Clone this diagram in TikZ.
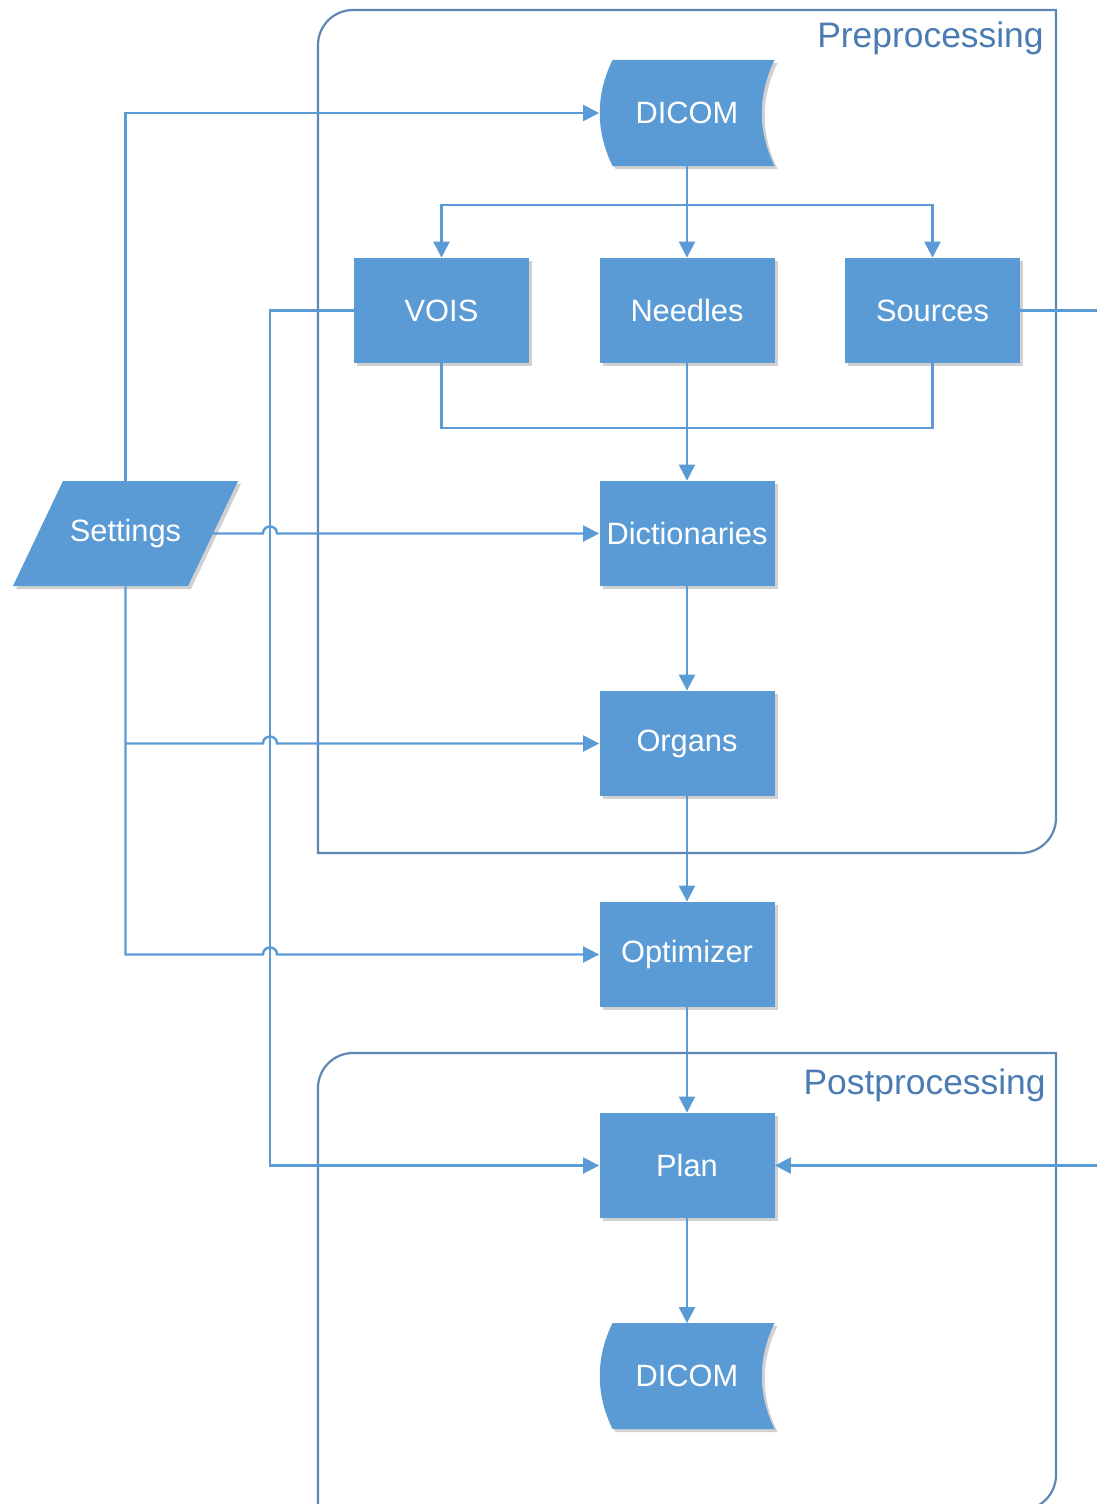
\documentclass[tikz,border=0pt]{standalone}
\usepackage{fontspec}
\setmainfont{Liberation Sans}
\usetikzlibrary{arrows.meta,shadows}
\definecolor{nodeblue}{HTML}{5B9BD5}
\definecolor{lineblue}{HTML}{5B9BD5}
\definecolor{contblue}{HTML}{5F87B4}
\definecolor{labblue}{HTML}{4A7BB2}
\begin{document}
\begin{tikzpicture}[x=0.5pt,y=-0.5pt,
  shad/.style={drop shadow={shadow xshift=1.5pt,shadow yshift=-1.5pt,opacity=.3,fill=black!60}},
  box/.style={fill=nodeblue,minimum width=87.5pt,minimum height=52.5pt,inner sep=0pt,text=white,font=\fontsize{15.4}{18}\selectfont,shad},
  tbox/.style={minimum width=87.5pt,minimum height=52.5pt,inner sep=0pt,text=white,font=\fontsize{15.4}{18}\selectfont},
  conn/.style={draw=lineblue,line width=1.2pt},
  arr/.style={conn,-{Triangle[length=8pt,width=8pt]}},
  cont/.style={draw=contblue,line width=1.1pt},
  lab/.style={text=labblue,font=\fontsize{17.7}{21}\selectfont,inner sep=0pt}]
\useasboundingbox (0,0) rectangle (1097,1504);
% containers
\draw[cont] (318,853) -- (318,45) .. controls (318,25.7) and (333.7,10) .. (353,10) -- (1056,10) -- (1056,818) .. controls (1056,837.3) and (1040.3,853) .. (1021,853) -- cycle;
\draw[cont] (318,1520) -- (318,1088) .. controls (318,1068.7) and (333.7,1053) .. (353,1053) -- (1056,1053) -- (1056,1475) .. controls (1056,1494.3) and (1040.3,1510) .. (1021,1510) -- (318,1510);
\node[lab,anchor=east] (prelab) at (1044,38) {Preprocessing};
\node[lab,anchor=east] (postlab) at (1046,1085) {Postprocessing};
% stored data shapes
\fill[nodeblue,shad] (612.5,60) -- (774.5,60) .. controls (757.5,95) and (757.5,131) .. (774.5,166) -- (612.5,166) .. controls (595.5,131) and (595.5,95) .. (612.5,60) -- cycle;
\node[tbox] (dicom1) at (687,113) {DICOM};
\fill[nodeblue,shad] (612.5,1323) -- (774.5,1323) .. controls (757.5,1358) and (757.5,1394) .. (774.5,1429) -- (612.5,1429) .. controls (595.5,1394) and (595.5,1358) .. (612.5,1323) -- cycle;
\node[tbox] (dicom2) at (687,1376) {DICOM};
% settings parallelogram
\fill[nodeblue,shad] (63,481) -- (238,481) -- (188,586) -- (13,586) -- cycle;
\node[tbox,minimum width=60pt] (settings) at (125.5,533.5) {Settings};
\coordinate (seteast) at (213,533.5);
% boxes
\node[box] (vois) at (441.5,310.5) {VOIS};
\node[box] (needles) at (687,310.5) {Needles};
\node[box] (sources) at (932.5,310.5) {Sources};
\node[box] (dict) at (687,533.5) {Dictionaries};
\node[box] (organs) at (687,743.5) {Organs};
\node[box] (optim) at (687,954.5) {Optimizer};
\node[box] (plan) at (687,1165.5) {Plan};
% connectors
\coordinate (split) at (687,205);
\draw[arr] (dicom1.south) -- (needles.north);
\draw[arr] (split) -| (vois.north);
\draw[arr] (split) -| (sources.north);
\coordinate (mergel) at (441.5,428);
\coordinate (merger) at (932.5,428);
\draw[conn] (vois.south) -- (mergel) -- (merger) -- (sources.south);
\draw[arr] (needles.south) -- (dict.north);
\draw[arr] (dict.south) -- (organs.north);
\draw[arr] (organs.south) -- (optim.north);
\draw[arr] (optim.south) -- (plan.north);
\draw[arr] (plan.south) -- (dicom2.north);
\coordinate (vx) at (270,1165.5);
\draw[arr] (vois.west) -| (vx) -- (plan.west);
\coordinate (sx) at (1140,1165.5);
\draw[arr] (sources.east) -| (sx) -- (plan.east);
\draw[arr] (settings.north) |- (dicom1.west);
\draw[arr] (seteast) -- (263,533.5) .. controls (263,524.2) and (277,524.2) .. (277,533.5) -- (dict.west);
\coordinate (sbr) at (125.5,743.5);
\draw[arr] (settings.south) -- (125.5,954.5) -- (263,954.5) .. controls (263,945.2) and (277,945.2) .. (277,954.5) -- (optim.west);
\draw[arr] (sbr) -- (263,743.5) .. controls (263,734.2) and (277,734.2) .. (277,743.5) -- (organs.west);
\end{tikzpicture}
\end{document}
